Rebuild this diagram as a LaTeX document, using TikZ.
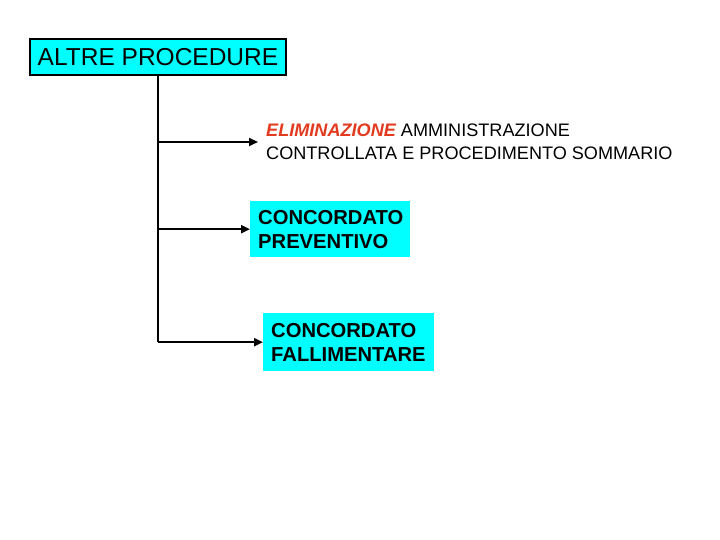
\documentclass[tikz,border=0pt]{standalone}
\usepackage{fontspec}
\setmainfont{Liberation Sans}
\usepackage{tikz}
\usetikzlibrary{arrows.meta}
\definecolor{boxcyan}{RGB}{0,255,255}
\definecolor{elimred}{RGB}{226,58,30}

\begin{document}
\begin{tikzpicture}[x=1pt,y=-1pt,
    every node/.style={inner sep=0pt,align=left},
    titlebox/.style={draw,line width=2pt,fill=boxcyan,minimum width=256pt,minimum height=36pt,font=\fontsize{24.5}{28}\selectfont},
    cyanbox/.style={fill=boxcyan,anchor=north west,inner xsep=8pt,font=\bfseries\fontsize{20.2}{24}\selectfont},
    plain/.style={anchor=west,inner xsep=8pt,font=\fontsize{18.1}{23}\selectfont},
    link/.style={line width=2pt},
    arrow/.style={line width=2pt,-{Triangle[length=9pt,width=8pt]}}]
  \useasboundingbox (0,0) rectangle (720,540);
          \node[titlebox] (top) at (158,57) {ALTRE PROCEDURE};
          \node[plain] (elim) at (258,142) {\textcolor{elimred}{\bfseries\itshape ELIMINAZIONE} AMMINISTRAZIONE\\CONTROLLATA E PROCEDIMENTO SOMMARIO};
          \node[cyanbox,minimum width=160pt,minimum height=56pt,text width=144pt] (prev) at (250,201) {CONCORDATO\\PREVENTIVO};
          \node[cyanbox,minimum width=171pt,minimum height=58pt,text width=155pt] (fall) at (263,313) {CONCORDATO\\FALLIMENTARE};
            \draw[link] (top.south) -- (top.south |- fall.west);
            \draw[arrow] (top.south |- elim.west) -- (elim.west);
            \draw[arrow] (top.south |- prev.west) -- (prev.west);
            \draw[arrow] (top.south |- fall.west) -- (fall.west);
        \end{tikzpicture}
\end{document}
